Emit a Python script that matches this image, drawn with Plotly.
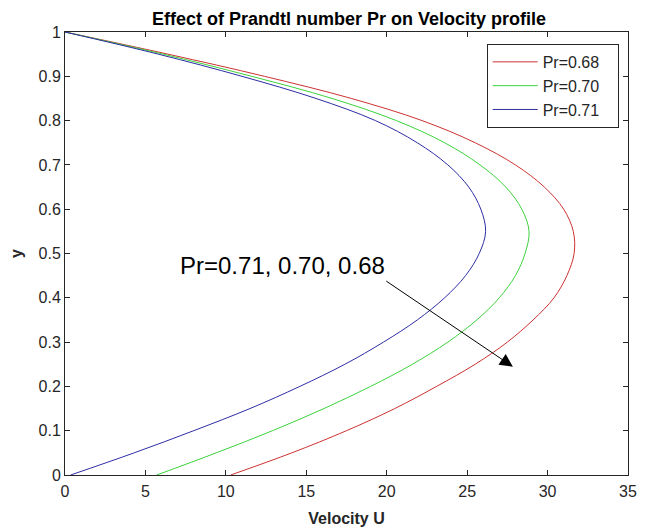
import plotly.graph_objects as go

# y positions (vertical axis)
y_vals = [0.00, 0.05, 0.10, 0.15, 0.20, 0.25, 0.30, 0.35, 0.40, 0.45, 0.50,
          0.55, 0.60, 0.65, 0.70, 0.75, 0.80, 0.85, 0.90, 0.95, 1.00]

# Velocity U for each Prandtl number
u_pr068 = [10.3, 14.1, 17.5, 20.5, 23.1, 25.5, 27.5, 29.1, 30.4, 31.2, 31.65,
           31.6, 31.0, 29.8, 28.0, 25.5, 22.2, 17.8, 12.4, 6.4, 0.0]
u_pr070 = [5.7, 9.4, 12.9, 16.1, 19.0, 21.6, 23.8, 25.6, 27.0, 28.0, 28.6,
           28.85, 28.4, 27.4, 25.8, 23.6, 20.6, 16.6, 11.6, 6.1, 0.0]
u_pr071 = [0.35, 4.3, 8.0, 11.5, 14.6, 17.4, 19.8, 21.9, 23.6, 24.9, 25.75,
           26.15, 25.85, 25.1, 23.8, 21.9, 19.3, 15.6, 11.0, 5.8, 0.0]

series_names = ["Pr=0.68", "Pr=0.70", "Pr=0.71"]
series_colors = ["rgb(205,50,50)", "rgb(60,210,60)", "rgb(45,45,165)"]
series_data = [u_pr068, u_pr070, u_pr071]

x_ticks = [0, 5, 10, 15, 20, 25, 30, 35]
y_ticks = [0, 0.1, 0.2, 0.3, 0.4, 0.5, 0.6, 0.7, 0.8, 0.9, 1.0]

annot_text = "Pr=0.71, 0.70, 0.68"

FONT = "Liberation Sans, Arial, Helvetica, sans-serif"
AXC = "#262626"
PAD = "\u00a0\u00a0\u00a0"

fig = go.Figure()
for name, col, u in zip(series_names, series_colors, series_data):
    fig.add_trace(go.Scatter(
        x=u, y=y_vals, mode="lines", name=name + PAD,
        line=dict(color=col, width=1, shape="spline", smoothing=1.0),
        legendgroup=name,
    ))

axis_common = dict(
    showline=True, linecolor=AXC, linewidth=1, mirror="ticks",
    ticks="inside", ticklen=5, tickcolor=AXC, tickwidth=1,
    showgrid=False, zeroline=False, automargin=False,
    tickfont=dict(family=FONT, size=16, color=AXC),
)

fig.update_layout(
    width=646, height=520,
    paper_bgcolor="white", plot_bgcolor="white",
    margin=dict(l=56.5, r=25.5, t=24, b=53),
    title=dict(text="<b>Effect of Prandtl number Pr on Velocity profile</b>",
               x=0.528, xanchor="center", yref="container", y=1.0,
               yanchor="top", pad=dict(t=4, b=0, l=0, r=0),
               font=dict(family=FONT, size=18, color="black")),
    xaxis=dict(range=[0, 35], tickvals=x_ticks, ticklabelstandoff=2,
               title=dict(text="<b>Velocity U</b>", standoff=13,
                          font=dict(family=FONT, size=16, color=AXC)),
               **axis_common),
    yaxis=dict(range=[0, 1], tickvals=y_ticks,
               title=dict(text="<b>y</b>", standoff=20,
                          font=dict(family=FONT, size=16, color=AXC)),
               **axis_common),
    legend=dict(x=0.749, y=0.973, xanchor="left", yanchor="top",
                bgcolor="white", bordercolor=AXC, borderwidth=1,
                font=dict(family=FONT, size=16, color=AXC),
                tracegroupgap=0, itemwidth=45),
    showlegend=True,
)

# arrow
fig.add_annotation(
    x=27.84, y=0.2445, ax=19.88, ay=0.440,
    xref="x", yref="y", axref="x", ayref="y",
    text="", showarrow=True, arrowhead=2, arrowsize=2.6, arrowwidth=1,
    arrowcolor="black",
)
# annotation text
fig.add_annotation(
    x=7.0, y=0.474, xref="x", yref="y", xanchor="left", yanchor="middle",
    text=annot_text, showarrow=False,
    font=dict(family=FONT, size=24, color="black"),
)

fig.write_html("out.html")
